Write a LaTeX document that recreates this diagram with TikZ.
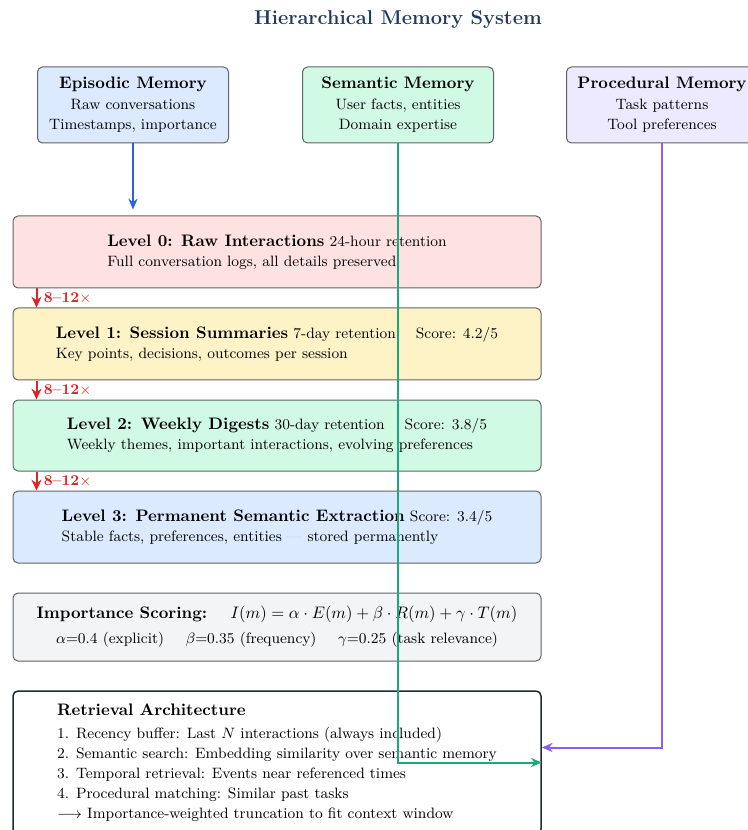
\documentclass[tikz,border=0pt]{standalone}
\usetikzlibrary{arrows.meta,calc}
\newdimen\U \U=0.6pt
\definecolor{titlec}{HTML}{1E3A5F}
\definecolor{epifill}{HTML}{DBEAFE}
\definecolor{semfill}{HTML}{D1FAE5}
\definecolor{procfill}{HTML}{EDE9FE}
\definecolor{lzero}{HTML}{FEE2E2}
\definecolor{lone}{HTML}{FEF3C7}
\definecolor{ltwo}{HTML}{D1FAE5}
\definecolor{lthree}{HTML}{DBEAFE}
\definecolor{impfill}{HTML}{F3F4F6}
\definecolor{bordc}{HTML}{5F6368}
\definecolor{retbord}{HTML}{1F2937}
\definecolor{bluec}{HTML}{2563EB}
\definecolor{greenc}{HTML}{1BA87E}
\definecolor{purpc}{HTML}{8B5CF6}
\definecolor{redc}{HTML}{DC2626}
\begin{document}
\begin{tikzpicture}[x=0.6pt,y=-0.6pt,
  membox/.style={draw=bordc, line width=0.6pt, rounded corners=3pt, inner sep=0pt,
    minimum width=191\U, minimum height=76\U, align=center,
    font=\fontsize{9}{12.3}\selectfont},
  lvlbox/.style={draw=bordc, line width=0.6pt, rounded corners=3pt, inner sep=0pt,
    minimum width=528\U, align=left, font=\fontsize{9}{12}\selectfont},
  conn/.style={line width=1.2pt, -{Stealth[length=6.5pt,width=5.5pt]}},
  redarr/.style={draw=redc, line width=1.2pt, -{Stealth[length=6.5pt,width=6pt]}},
  ratio/.style={anchor=west, inner sep=0pt, text=redc, font=\small}
]
\useasboundingbox (0,0) rectangle (747,830);

\node[font=\large\bfseries, text=titlec] (title) at (398,20) {Hierarchical Memory System};

\node[membox, fill=epifill] (epi) at (133,105)
  {{\normalsize\bfseries Episodic Memory}\\Raw conversations\\Timestamps, importance};
\node[membox, fill=semfill] (sem) at (398,105)
  {{\normalsize\bfseries Semantic Memory}\\User facts, entities\\Domain expertise};
\node[membox, fill=procfill] (proc) at (662,105)
  {{\normalsize\bfseries Procedural Memory}\\Task patterns\\Tool preferences};

\node[lvlbox, fill=lzero, minimum height=72\U] (l0) at (277,252)
  {{\normalsize\bfseries Level 0: Raw Interactions} 24-hour retention\\
   Full conversation logs, all details preserved};
\node[lvlbox, fill=lone, minimum height=72\U] (l1) at (277,344)
  {{\normalsize\bfseries Level 1: Session Summaries} 7-day retention\hspace{12pt}Score: 4.2/5\\
   Key points, decisions, outcomes per session};
\node[lvlbox, fill=ltwo, minimum height=71\U] (l2) at (277,435.5)
  {{\normalsize\bfseries Level 2: Weekly Digests} 30-day retention\hspace{12pt}Score: 3.8/5\\
   Weekly themes, important interactions, evolving preferences};
\node[lvlbox, fill=lthree, minimum height=72\U] (l3) at (277,527)
  {{\normalsize\bfseries Level 3: Permanent Semantic Extraction} Score: 3.4/5\\
   Stable facts, preferences, entities \textcolor{black!20}{---} stored permanently};

\node[lvlbox, fill=impfill, minimum height=68\U, align=center] (imp) at (277,627)
  {{\normalsize\bfseries Importance Scoring:}\hspace{14pt}{\normalsize $I(m)=\alpha\cdot E(m)+\beta\cdot R(m)+\gamma\cdot T(m)$}\\[3pt]
   $\alpha$=0.4 (explicit)\hspace{13pt}$\beta$=0.35 (frequency)\hspace{13pt}$\gamma$=0.25 (task relevance)};

\node[lvlbox, draw=retbord, line width=0.9pt, fill=white, minimum height=143\U] (ret) at (277,762.5)
  {{\normalsize\bfseries Retrieval Architecture}\\[1.5pt]
   1. Recency buffer: Last $N$ interactions (always included)\\
   2. Semantic search: Embedding similarity over semantic memory\\
   3. Temporal retrieval: Events near referenced times\\
   4. Procedural matching: Similar past tasks\\
   $\longrightarrow$ Importance-weighted truncation to fit context window};

% level transitions
\draw[redarr] ([xshift=24\U]l0.south west) -- ([xshift=24\U]l1.north west);
\draw[redarr] ([xshift=24\U]l1.south west) -- ([xshift=24\U]l2.north west);
\draw[redarr] ([xshift=24\U]l2.south west) -- ([xshift=24\U]l3.north west);
\node[ratio] (r0) at ([xshift=31\U,yshift=-10\U]l0.south west) {\textbf{8--12}$\times$};
\node[ratio] (r1) at ([xshift=31\U,yshift=-10\U]l1.south west) {\textbf{8--12}$\times$};
\node[ratio] (r2) at ([xshift=31\U,yshift=-10\U]l2.south west) {\textbf{8--12}$\times$};

% memory connectors
\draw[conn, draw=bluec] (epi.south) -- ([yshift=6\U]epi.south |- l0.north);
\draw[conn, draw=greenc] (sem.south) |- (ret.east);
\draw[conn, draw=purpc] (proc.south) |- ([yshift=15\U]ret.east);
\end{tikzpicture}
\end{document}
